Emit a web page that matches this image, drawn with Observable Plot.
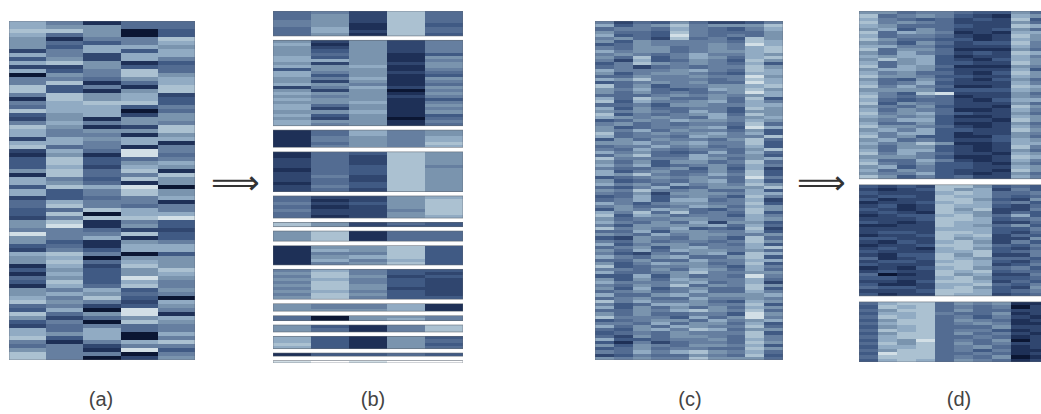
<!DOCTYPE html>
<html><head><meta charset="utf-8">
<script src="https://cdn.jsdelivr.net/npm/d3@7"></script>
<script src="https://cdn.jsdelivr.net/npm/@observablehq/plot@0.6"></script>
<style>
html,body{margin:0;padding:0;background:#fff;overflow:hidden}
#fig{position:relative;width:1041px;height:414px;overflow:hidden}
.panel{position:absolute}
.panel svg{display:block;filter:blur(.6px);max-width:none}
.cap{position:absolute;top:388px;width:60px;text-align:center;font:20px "Liberation Sans",Arial,sans-serif;color:#444}
.arrow{position:absolute;font:34px/30px "DejaVu Sans",sans-serif;color:#333}
</style></head><body><div id="fig"></div>
<script>
const colorSteps = ["#0b1633","#1e3057","#30466f","#405a84","#536c92","#667fa0","#7a94ae","#91abc3","#abc1d1","#d2dfe6"];
const colorLevels = [0,1,2,3,4,5,6,7,8,9];

const panelA = ["75144","76644","88603","74603","61558","64357","63776","25737","75277","36275","78613","22634","73584","06586","55467","58147","83518","83168","58672","18673","57883","47735","87704","36726","26166","57565","86128","75668","75516","27677","77571","84515","27495","16194","38345","38367","37276","68481","18458","75386","76416","38790","73586",
"73586","23457","47551","48545","34875","38077","25889","68153","69163","55422","95583","65713","63165","34177","25377","78503","67066","68476","17286","36368","17367","46396","38375","17485","65736","67645","75830","86527","45236","37095","84691","62467","35086","24545","74745","76707","83705","51578","45255","65193","85505","85026"];

const panelBClusters = [
 ["45284","46284","46284","56284","56183","47184","47284","46183"],
 ["62625","71625","62625","63625","64613","73616","77615","62626","76716","36615","75624","73613","65716","62615","76514","25726","62605","76616","65625","76613","66715","74616","72615","66716","73613","62604","76615","75614"],
 ["14756","14756","15657","15657","14658","15657"],
 ["14386","14286","24286","24286","24385","14386","24386","25286","24286","14386","25386","24286"],
 ["42267","41268","52368","41268","52258","42268","41267"],
 ["8624","8623"].map(r=>r+"3"),
 ["68144","68144","68144"],
 ["16683","17683","15583","16783","17573","15683"],
 ["57533","68532","58623","67532","58532","68632","58622","67532","58632","68533"],
 ["65571","65571","66671"],
 ["40665","40675"],
 ["63158","64158"],
 ["73163","73164","83163","73164"],
 ["13343"],
 ["9-9--"]
];
const panelBSpans = [25,85.6,17.4,39.8,22.2,4.2,10.2,19.4,30,7.6,5,7,12.3,3.2,2.4];

const panelC = ["5243642235","7356856668","4554754357","6443854446","7343954546","5642845386","6365555487","3465556597","5466456578","7566456678","5654575576","6483576478","5273465386","3586565473","4524545586","7555675487","6356654377","4465565596","7685554587","3456564497","8463556678","6574347686","6464545697","4445656567","7486446483","8375567475","4453665577","7364455386","6565475366","8354567486","7656547567","3465766576","5645455484","6345567397","6574655463","8456567573","7455476558","3646554684","6675675583","4557564573","5475455468","7564347474","4684475563","8555576467","6463664584","7573456475","5445636372","7356446483","7685457583","3456565495","6345467473",
"7564756586","4357346668","6585564473","5462666577","3473565385","4573774572","7535665583","5644576476","3657643586","7584845483","8376455375","6455665576","7546472663","5366667474","8565734382","4473665573","6547566556","3265465384","5464554586","7356645473","4563675578","6474766564","5325467387","7546744683","4464475577","6357664583","8345565375","5546476474","7445685566","3373645495","6364765574","7555674572","5465846586","6373564483","4564574475","7446756667","4564475565","8575564376","5347765583","7364646476","4465786584","6464455396","8555374695","3456647567","5547466473","7464765584","4367587466","3454655583","4264665485","7334556475","3152455486","6365466573","3464554486","5475786574","2354465483","6565586664"];

const panelDClusters = [
 ["6645543364","8456532176","7543423283","8565422264","7644432287","6736422364","8476512177","7455421286","8644331276","6536423385","7755322275","8466411164","6475423287","7677312275","6867321376","7467332286","8476411165","6776322273","7564421386","8665332276","6436421364","7457322275","8575411287","6666333376","7538922264","8545412265","7434421377","8365422264","6546322186","7465411275","8567432264","7656311276","6577322186","7446311264","8665421275","6757332286","7577312265","8563311364","6745322376","7568611277","6466321285","7477321264","8575422176","6665311287","7447521275","8546332164","6735332276","7465322186","6557321264","8635342275"],
 ["3232886343","2123867253","3222787445","2332877434","3122886326","1223787453","2312877324","3212868225","2321876243","1233786473","2223887345","3212877224","1122876463","2222777335","2332887324","1223878243","3322867226","2132786253","1223887435","2321786324","3222778345","2133868225","4123876443","2332787324","3222887235","1213786453","2322878344","4012867225","3322786334","2213887243","3112778435","4332786326","2223887345","3122877234"],
 ["4788465611","3878454502","4688464422","3778544612","4878453521","3688465412","4788456511","3678444622","4878455312","3688464521","4788445412","3769454602","4868464522","3778456412","4688453511","3988445412","4888454601","3787465412"]
];
const panelDSpans = [167.5,111,60];

const caps = ["(a)","(b)","(c)","(d)"];

function heat(clusters, spans, gap, cols, w, h, left, top){
  const cells=[], frames=[]; let y=0;
  clusters.forEach((rows,c)=>{
    const rh=spans[c]/rows.length;
    rows.forEach((r,i)=>[...r].forEach((ch,j)=>{ if(ch!=="-") cells.push({col:j,y:y+i*rh,h:rh,v:+ch}); }));
    frames.push({y:y,h:spans[c]});
    y+=spans[c]+gap;
  });
  const total=y-gap;
  const svg=Plot.plot({width:w,height:h,margin:0,
    x:{domain:[0,cols],axis:null},
    y:{domain:[0,total],reverse:true,axis:null},
    color:{type:"linear",domain:colorLevels,range:colorSteps},
    marks:[
      Plot.rect(cells,{x1:d=>d.col,x2:d=>d.col+1,y1:d=>d.y,y2:d=>d.y+d.h,fill:d=>d.v,shapeRendering:"crispEdges"}),
      Plot.rect(frames,{x1:0,x2:cols,y1:d=>d.y,y2:d=>d.y+d.h,fill:"none",stroke:"#5c6672",strokeWidth:.8,strokeOpacity:.7})
    ]});
  const div=document.createElement("div");
  div.className="panel"; div.style.left=left+"px"; div.style.top=top+"px";
  div.appendChild(svg); fig.appendChild(div);
}
const fig=document.getElementById("fig");
heat([panelA],[339],0,5,186,339,9,21);
heat(panelBClusters,panelBSpans,4.4,5,190,352,273,11);
heat([panelC],[339],0,10,188,339,595,21);
heat(panelDClusters,panelDSpans,6,10,190,351,859,11);

[101,373,690,959].forEach((x,i)=>{const s=document.createElement("div");s.className="cap";s.textContent=caps[i];s.style.left=(x-30)+"px";fig.appendChild(s);});
[211,797].forEach(x=>{const s=document.createElement("div");s.className="arrow";s.textContent="\u27F9";s.style.left=x+"px";s.style.top="167px";fig.appendChild(s);});
</script></body></html>
